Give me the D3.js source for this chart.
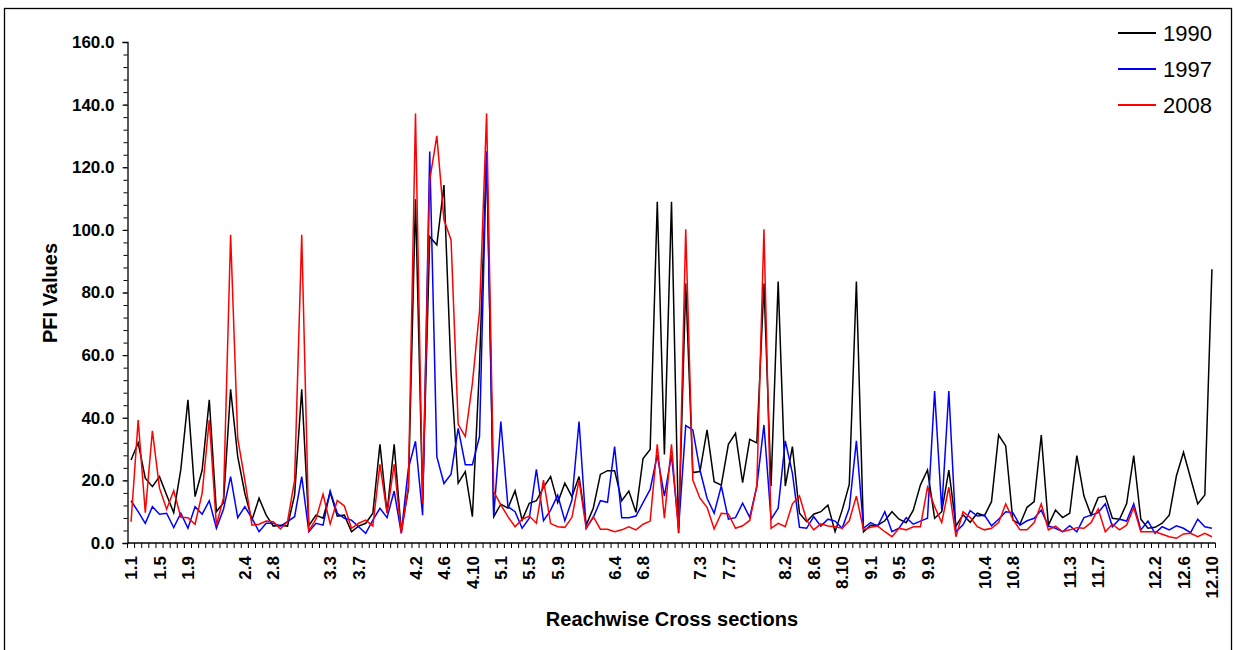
<!DOCTYPE html>
<html>
<head>
<meta charset="utf-8">
<script src="https://cdn.jsdelivr.net/npm/d3@7"></script>
<style>
  body { margin: 0; background: #fff; }
  text { font-family: "Liberation Sans", Arial, sans-serif; }
</style>
</head>
<body>
<div id="main-container"></div>
<script>
var width = 1234,
    height = 650

// cross sections per reach (12 reaches)
var reachSizes = [13, 13, 13, 13, 13, 13, 13, 13, 13, 13, 13, 10]

var categories = []
reachSizes.forEach(function(n, r) {
  for (var s = 1; s <= n; s++) categories.push((r + 1) + "." + s)
})

// labels that are actually printed under the axis
var shownLabels = ["1.1","1.5","1.9","2.4","2.8","3.3","3.7","4.2","4.6","4.10",
  "5.1","5.5","5.9","6.4","6.8","7.3","7.7","8.2","8.6","8.10","9.1","9.5","9.9",
  "10.4","10.8","11.3","11.7","12.2","12.6","12.10"]

var yTicks = [0, 20, 40, 60, 80, 100, 120, 140, 160]

var pfi1990 = [26.5,32.0,20.7,18.0,21.2,15.3,9.7,23.5,45.7,14.8,
  23.3,45.7,10.0,12.9,49.1,27.6,15.9,7.3,14.3,8.9,
  5.4,5.7,5.4,15.3,49.1,5.5,8.9,7.9,16.2,8.6,
  8.9,3.6,5.4,6.3,9.5,31.5,9.7,31.5,3.6,17.2,
  109.8,13.7,97.8,95.2,114.3,54.2,19.1,22.8,8.4,56.3,
  125.0,8.4,12.4,11.1,16.7,7.3,12.7,13.5,17.8,21.2,
  12.9,19.1,14.8,21.2,5.7,11.1,21.9,23.1,23.1,13.5,
  16.6,9.8,27.0,29.9,109.0,28.3,109.0,3.1,82.9,22.5,
  22.8,36.1,19.6,18.5,31.5,35.0,19.3,33.1,32.0,82.9,
  18.2,83.5,18.2,30.8,9.5,6.8,9.2,10.0,12.1,3.6,
  10.5,18.7,83.5,3.6,5.7,5.7,7.1,10.0,7.6,6.5,
  10.5,18.5,23.3,7.9,10.0,23.3,5.4,9.0,6.6,9.5,
  8.7,13.2,34.5,31.0,7.3,6.0,11.4,13.2,34.5,5.7,
  10.5,8.1,9.5,27.9,15.0,8.9,14.5,15.0,7.9,7.6,
  12.5,27.9,7.6,4.7,5.0,6.3,8.9,21.4,29.0,20.7,
  12.5,15.3,87.4]

var pfi1997 = [13.5,10.0,6.3,11.6,9.2,9.5,4.9,9.5,4.7,11.6,
  9.2,13.5,4.7,10.8,21.2,8.1,11.6,7.9,3.6,6.3,
  6.3,5.4,6.8,8.4,21.2,3.6,6.3,5.7,16.6,9.5,
  7.9,7.3,5.2,3.1,7.3,11.1,8.1,16.6,3.1,23.8,
  32.5,8.9,125.0,27.6,19.0,22.0,36.6,25.0,25.0,34.0,
  125.0,8.6,38.8,11.6,10.0,4.7,7.9,23.5,7.1,10.5,
  15.3,7.1,13.7,38.8,4.7,8.2,13.5,13.0,30.8,8.1,
  8.1,8.6,12.9,17.1,28.1,15.0,28.1,4.7,37.5,36.1,
  23.3,14.3,9.5,18.2,7.6,8.1,12.7,8.2,18.1,37.7,
  7.6,11.1,32.6,22.3,5.0,4.7,8.4,5.4,7.6,7.0,
  4.7,11.1,32.6,4.7,6.5,5.4,10.0,3.6,4.7,8.1,
  6.0,7.0,7.9,48.5,10.5,48.5,3.6,5.8,10.3,8.6,
  8.9,5.5,7.6,10.0,9.7,5.7,7.1,7.9,10.5,5.4,
  4.7,3.6,5.5,3.6,8.1,8.9,9.7,12.5,5.2,7.6,
  7.0,12.5,4.2,7.0,3.1,5.2,4.2,5.5,4.7,3.3,
  7.6,5.2,4.7]

var pfi2008 = [6.8,39.3,9.7,35.8,17.5,10.8,16.7,8.2,8.1,6.0,
  15.9,39.3,5.7,14.3,98.4,33.4,20.1,5.7,6.0,7.0,
  6.8,4.5,6.8,20.1,98.4,3.9,7.6,15.6,6.1,13.6,
  11.8,4.7,6.3,7.3,5.4,25.1,9.5,25.1,3.1,18.0,
  137.2,12.7,115.9,130.0,103.2,96.8,37.9,34.0,51.0,73.9,
  137.2,16.4,12.2,8.4,5.2,7.6,8.6,6.3,20.1,6.2,
  5.2,5.0,8.2,20.1,4.7,8.4,4.4,4.4,3.6,4.2,
  5.2,4.2,6.0,7.0,31.5,7.9,31.5,3.3,100.2,20.1,
  14.3,11.4,4.5,9.5,9.3,4.7,5.5,7.2,18.2,100.2,
  4.7,6.3,5.2,12.5,15.0,7.3,4.2,6.1,5.4,5.2,
  4.7,7.1,15.0,4.2,5.0,5.4,3.6,2.0,4.7,4.2,
  5.2,5.2,17.8,11.6,6.5,17.8,2.0,10.0,8.2,5.2,
  4.2,4.7,6.5,12.5,7.6,4.2,4.2,6.5,12.5,4.2,
  5.4,3.6,4.2,4.9,4.7,6.5,10.9,3.6,6.0,4.2,
  5.7,11.3,3.6,3.6,3.6,2.8,2.0,1.5,2.9,3.1,
  2.0,3.1,2.0]

var seriesNames = ["1990", "1997", "2008"]
var seriesColors = ["#000000", "#0000ff", "#ff0000"]
var seriesValues = [pfi1990, pfi1997, pfi2008]

var svg = d3.select("#main-container").append("svg")
  .attr("width", width)
  .attr("height", height)

// outer chart frame
svg.append("rect")
  .attr("x", 4.5).attr("y", 8.5)
  .attr("width", 1227).attr("height", 660)
  .attr("fill", "none")
  .attr("stroke", "#000")
  .attr("stroke-width", 1.3)

var plotLeft = 127.5, plotRight = 1215.5, plotTop = 42, plotBottom = 543

var x = d3.scaleBand()
  .domain(categories)
  .range([plotLeft, plotRight])
  .padding(0)

var y = d3.scaleLinear()
  .domain([0, 160])
  .range([plotBottom, plotTop])

// y axis
var yAxis = svg.append("g")
  .attr("transform", "translate(" + plotLeft + ",0)")
  .call(d3.axisLeft(y).tickValues(yTicks).tickFormat(d3.format(".1f")).tickSize(5).tickPadding(8))
yAxis.select(".domain").attr("stroke", "#000").attr("stroke-width", 1.3)
yAxis.selectAll("text")
  .attr("font-size", 17).attr("font-weight", "bold").attr("fill", "#000")
  .style("font-family", "Liberation Sans, Arial, sans-serif")

svg.append("g")
  .attr("transform", "translate(" + plotLeft + ",0)")
  .call(d3.axisLeft(y).tickValues(d3.range(0, 161, 4)).tickFormat("").tickSize(4))
  .call(function(g){ g.select(".domain").remove() })

// x axis: ticks between categories
var xAxis = svg.append("g")
  .attr("transform", "translate(0," + plotBottom + ")")
xAxis.append("line")
  .attr("x1", plotLeft).attr("x2", plotRight)
  .attr("stroke", "#000").attr("stroke-width", 1.3)
xAxis.selectAll(".xtick")
  .data(categories.concat(["end"]))
  .enter().append("line")
  .attr("class", "xtick")
  .attr("x1", function(d, i){ return plotLeft + i * x.step() })
  .attr("x2", function(d, i){ return plotLeft + i * x.step() })
  .attr("y1", 0).attr("y2", 5)
  .attr("stroke", "#000")

xAxis.selectAll(".xlab")
  .data(shownLabels)
  .enter().append("text")
  .attr("class", "xlab")
  .attr("transform", function(d){
    return "translate(" + (x(d) + x.bandwidth() / 2) + ",13) rotate(-90)"
  })
  .attr("dy", "0.36em")
  .attr("text-anchor", "end")
  .attr("font-size", 17)
  .attr("font-weight", "bold")
  .text(function(d){ return d })

// lines
var line = d3.line()
  .x(function(d, i){ return x(categories[i]) + x.bandwidth() / 2 })
  .y(function(d){ return y(d) })

svg.append("g").selectAll("path")
  .data(seriesValues)
  .enter().append("path")
  .attr("d", line)
  .attr("fill", "none")
  .attr("stroke", function(d, i){ return seriesColors[i] })
  .attr("stroke-width", 1.5)

// axis titles
svg.append("text")
  .attr("transform", "translate(57,293) rotate(-90)")
  .attr("text-anchor", "middle")
  .attr("font-size", 20)
  .attr("font-weight", "bold")
  .text("PFI Values")

svg.append("text")
  .attr("x", 672).attr("y", 626)
  .attr("text-anchor", "middle")
  .attr("font-size", 20)
  .attr("font-weight", "bold")
  .text("Reachwise Cross sections")

// legend
var legend = svg.append("g").selectAll("g")
  .data(seriesNames)
  .enter().append("g")
  .attr("transform", function(d, i){ return "translate(1118," + (33 + i * 36) + ")" })
legend.append("line")
  .attr("x1", 0).attr("x2", 38)
  .attr("stroke", function(d, i){ return seriesColors[i] })
  .attr("stroke-width", 2)
legend.append("text")
  .attr("x", 45).attr("dy", "0.36em")
  .attr("font-size", 22)
  .text(function(d){ return d })
</script>
</body>
</html>
